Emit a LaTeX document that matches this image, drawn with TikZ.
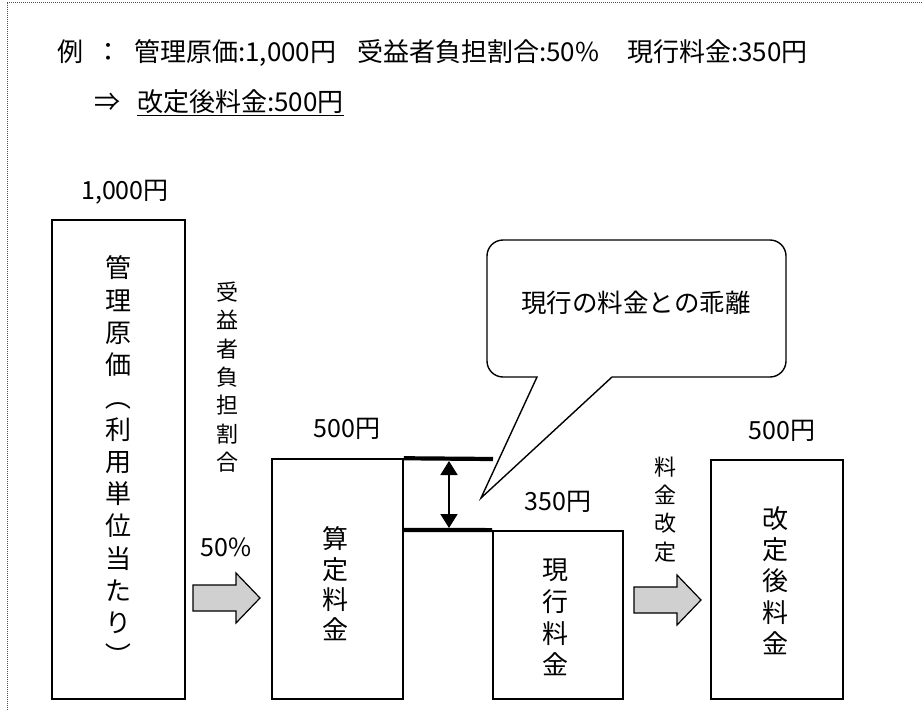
\documentclass[tikz,border=0pt]{standalone}
\usepackage{fontspec}
\setmainfont{Noto Sans CJK JP}
\usetikzlibrary{arrows.meta}
\newcommand{\fsz}[2]{\fontsize{#1}{#2}\selectfont}
\newcommand{\vlp}{\rotatebox[origin=c]{-90}{（}}
\newcommand{\vrp}{\rotatebox[origin=c]{-90}{）}}
\definecolor{arrowgray}{RGB}{208,208,208}
\definecolor{framegray}{RGB}{80,80,80}
\begin{document}
\begin{tikzpicture}[x=1pt,y=-1pt,
  txt/.style={inner sep=0pt, font=\fsz{25}{28}},
  htxt/.style={inner sep=0pt, anchor=base west, font=\fsz{26}{30}},
  box/.style={draw, line width=1.8pt, inner sep=0pt},
  vtxt/.style={inner sep=0pt, align=center},
  blockarrow/.style={draw, line width=1.2pt, fill=arrowgray, line join=miter},
  gapline/.style={line width=4.2pt},
  frameline/.style={draw=framegray, line width=0.9pt, dash pattern=on 1pt off 1pt},
]
\useasboundingbox (0,0) rectangle (922,710);
% dotted frame
\draw[frameline] (7,710) -- (7,2) -- (922,2);

% header
\node[htxt, anchor=base] (ex) at (70,61.5) {例};
\node[htxt, anchor=base] (colon) at (108,61.5) {：};
\node[htxt] (h1) at (134,61.5) {管理原価:1,000円};
\node[htxt] (h2) at (357,61.5) {受益者負担割合:50\%};
\node[htxt] (h3) at (627,61.5) {現行料金:350円};
\node[htxt, anchor=base] (imp) at (107,111.5) {⇒};
\node[htxt] (res) at (137,111.5) {\underline{改定後料金:500円}};

% boxes
\node[box, line width=2pt, minimum width=133pt, minimum height=479pt] (kanri) at (118.5,459.5) {};
\node[box, line width=1.5pt, minimum width=131pt, minimum height=240pt] (santei) at (337.5,579) {};
\node[box, minimum width=130pt, minimum height=168pt] (genko) at (558,615) {};
\node[box, minimum width=132pt, minimum height=239pt] (kaiteigo) at (777,579.5) {};

% box texts
\node[vtxt, font=\fsz{26}{32.25}] (kanritxt) at (118,462)
  {管\\理\\原\\価\\\vlp\\利\\用\\単\\位\\当\\た\\り\\\vrp};
\node[vtxt, font=\fsz{26}{30.3}] (santeitxt) at (335,584) {算\\定\\料\\金};
\node[vtxt, font=\fsz{26}{31.7}] (genkotxt) at (555,617.5) {現\\行\\料\\金};
\node[vtxt, font=\fsz{26}{31.25}] (kaiteigotxt) at (775,580.5) {改\\定\\後\\料\\金};

% labels
\node[txt] (l1000) at (125,192) {1,000円};
\node[txt] (l500a) at (347,429) {500円};
\node[txt] (l350) at (558,502) {350円};
\node[txt] (l500b) at (782,431) {500円};
\node[txt] (l50) at (226,547) {50\%};
\node[vtxt, font=\fsz{22}{28.3}] (juek) at (227,377) {受\\益\\者\\負\\担\\割\\合};
\node[vtxt, font=\fsz{22}{28.3}] (kaitei) at (665,509.5) {料\\金\\改\\定};

% block arrows
\draw[blockarrow] (193,585) -- (236,585) -- (236,573) -- (260,598) -- (236,623) -- (236,611) -- (193,611) -- cycle;
\draw[blockarrow] (634,587) -- (677,587) -- (677,575) -- (701,600) -- (677,625) -- (677,613) -- (634,613) -- cycle;

% gap lines and double arrow
\coordinate (gt) at (493,459);
\coordinate (gb) at (403,530);
\draw[gapline] (santei.north east) -- (gt);
\draw[gapline] (gb) -- (genko.north west);
\coordinate (dt) at (449,461);
\coordinate (db) at (449,528);
\draw[line width=1.8pt, {Triangle[length=14pt,width=17pt]}-{Triangle[length=14pt,width=17pt]}] (dt) -- (db);

% callout
\draw[line width=1.4pt, fill=white, line join=miter]
  (612,377) -- (770,377) .. controls (778.8,377) and (786,369.8) .. (786,361)
  -- (786,256) .. controls (786,247.2) and (778.8,240) .. (770,240)
  -- (503,240) .. controls (494.2,240) and (487,247.2) .. (487,256)
  -- (487,361) .. controls (487,369.8) and (494.2,377) .. (503,377)
  -- (537,377) -- (481,498) -- cycle;
\node[inner sep=0pt, font=\fsz{25.5}{30}] (bubble) at (636,303) {現行の料金との乖離};
\end{tikzpicture}
\end{document}
